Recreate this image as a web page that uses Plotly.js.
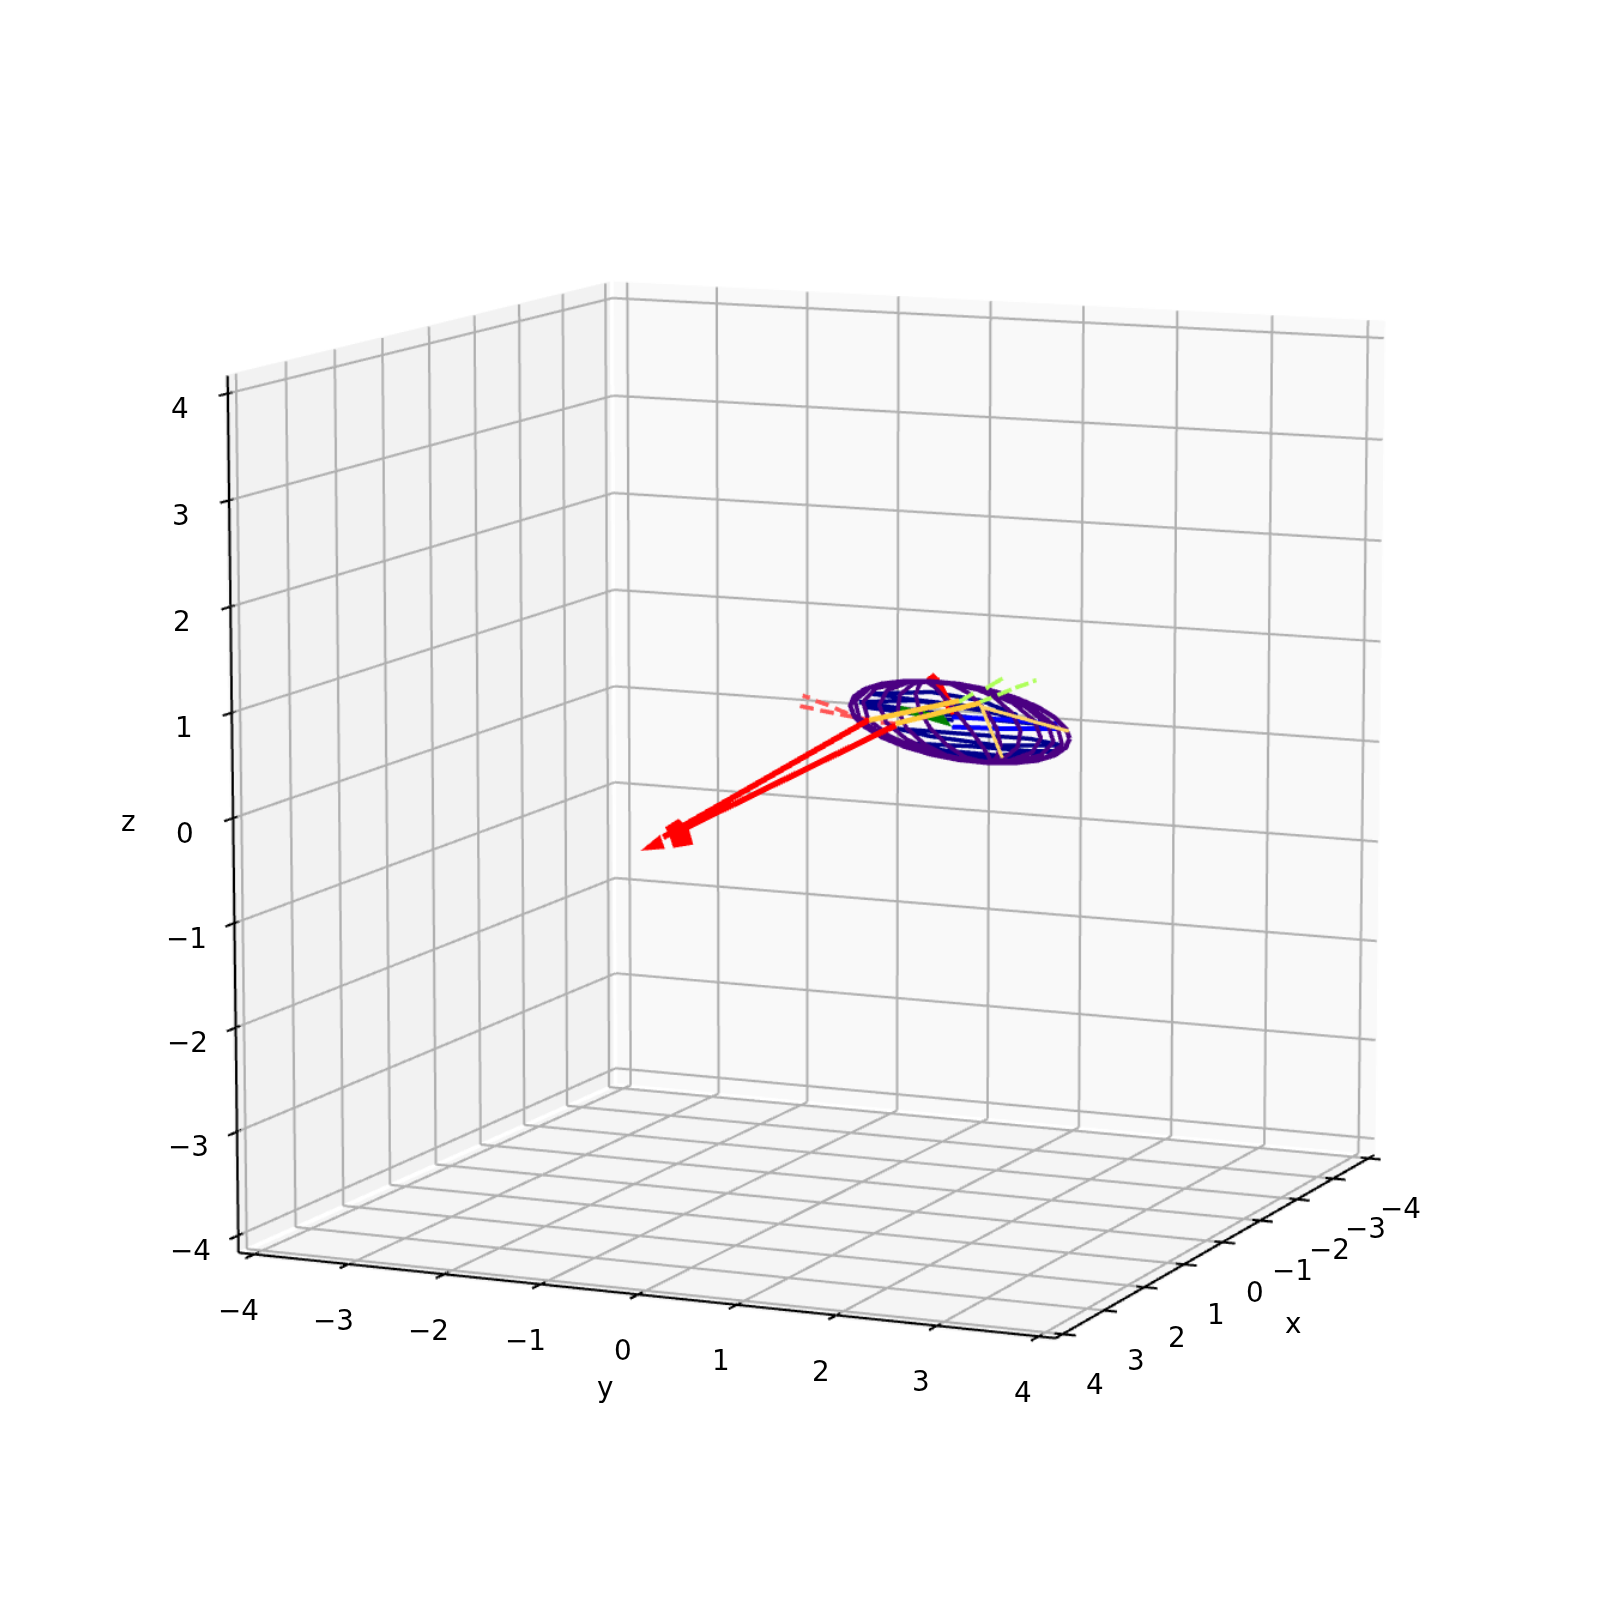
<!DOCTYPE html><html><head><script src="https://cdn.plot.ly/plotly-3.0.1.min.js"></script>
<style>html,body{margin:0;padding:0;overflow:hidden;width:1600px;height:1600px;background:#fff}#g{position:absolute}</style></head><body><div id="g"></div>
<script>
// ---- chart values (y, z of each curve; all lie near x = 0) ----
var tickValues=[-4,-3,-2,-1,0,1,2,3,4];
var tickLabels=['\u22124','\u22123','\u22122','\u22121','0','1','2','3','4'];
var outlineY=[2.570,2.531,2.418,2.238,2.003,1.731,1.438,1.145,.873,.638,.458,.345,.306,.345,.458,.638,.873,1.145,1.438,1.731,2.003,2.238,2.418,2.531,2.570];
var outlineZ=[.572,.481,.400,.337,.297,.279,.287,.320,.376,.450,.539,.635,.732,.823,.904,.967,1.007,1.024,1.017,.984,.928,.852,.761,.662,.572];
var meridian1Y=[1.094,.838,.510,.356,.401,.640,1.026,1.488,1.766],meridian1Z=[1.020,.995,.919,.781,.620,.467,.349,.295,.288];
var meridian2Y=[1.094,.862,.569,.438,.492,.722,1.085,1.512,1.766],meridian2Z=[1.020,.998,.917,.777,.616,.463,.347,.295,.288];
var meridian3Y=[1.094,.910,.688,.607,.678,.891,1.204,1.560,1.766],meridian3Z=[1.020,.998,.905,.761,.598,.447,.335,.288,.288];
var meridian4Y=[1.094,.965,.825,.800,.891,1.084,1.341,1.615,1.766],meridian4Z=[1.020,.992,.878,.723,.556,.409,.308,.284,.288];
var meridian5Y=[1.094,1.030,.985,1.024,1.139,1.308,1.501,1.680,1.766],meridian5Z=[1.020,.996,.887,.735,.570,.421,.317,.285,.288];
var meridian6Y=[1.094,1.110,1.185,1.306,1.450,1.590,1.701,1.760,1.766],meridian6Z=[1.020,1.012,.971,.853,.700,.539,.401,.311,.288];
var meridian7Y=[1.094,1.176,1.348,1.536,1.704,1.820,1.864,1.826,1.766],meridian7Z=[1.020,1.022,1.012,.935,.790,.621,.459,.335,.288];
var meridian8Y=[1.094,1.246,1.523,1.783,1.976,2.067,2.039,1.896,1.766],meridian8Z=[1.020,1.020,1.006,.925,.779,.611,.452,.332,.288];
var meridian9Y=[1.094,1.306,1.672,1.993,2.208,2.277,2.188,1.956,1.766],meridian9Z=[1.020,1.020,.982,.869,.717,.555,.412,.316,.288];
var meridian10Y=[1.094,1.343,1.763,2.121,2.349,2.405,2.279,1.993,1.766],meridian10Z=[1.020,1.015,.962,.841,.687,.527,.392,.308,.288];
var meridian11Y=[1.094,1.369,1.827,2.210,2.448,2.494,2.343,2.019,1.766],meridian11Z=[1.020,1.010,.948,.822,.665,.508,.378,.302,.288];
var parallel1Y=[.520,1.140,1.657,2.036,1.485,.968,.520],parallel1Z=[.863,.922,.876,.758,.816,.836,.863];
var parallel2Y=[.399,.968,1.657,2.398,1.657,.968,.399],parallel2Z=[.774,.829,.780,.686,.699,.733,.774];
var parallel3Y=[.451,.968,1.382],parallel3Z=[.730,.701,.664];
var parallel4Y=[.795,1.485,2.174,2.502,1.830,1.140,.795],parallel4Z=[.544,.542,.541,.500,.454,.494,.544];
var parallel5Y=[1.002,1.588,2.174,2.450,1.830,1.278,1.002],parallel5Z=[.413,.427,.422,.441,.357,.367,.413];
var parallel6Y=[1.278,1.726,2.243,1.726,1.278],parallel6Z=[.326,.334,.363,.292,.326];
var blue1Y=[1.364,1.898,2.450],blue1Z=[.695,.707,.705];
var blue2Y=[1.364,1.898,2.450],blue2Z=[.599,.620,.657];
var goldThick1Y=[.502,1.433],goldThick1Z=[.604,.855];
var goldThick2Y=[.778,1.657],goldThick2Z=[.591,.851];
var goldThin1Y=[1.657,1.881],goldThin1Z=[.828,.338];
var goldThin2Y=[1.657,2.560],goldThin2Z=[.812,.639];
var limeDash1Y=[1.433,1.581,null,1.709,1.881],limeDash1Z=[.845,.936,null,.993,1.101];
var limeDash2Y=[1.640,1.768,null,1.830,1.974,null,2.012,2.147,null,2.192,2.226],limeDash2Z=[.853,.910,null,.937,1.002,null,1.020,1.072,null,1.094,1.106];
var redDash1Y=[-.194,-.118,null,-.056,.078,null,.147,.278,null,.347,.502],redDash1Z=[.798,.781,null,.756,.723,null,.699,.654,null,.633,.604];
var redDash2Y=[-.221,-.077,null,-.008,.134,null,.203,.347,null,.416,.554,null,.623,.778],redDash2Z=[.694,.678,null,.666,.650,null,.642,.626,null,.614,.599,null,.593,.591];
var shaft1Y=[.502,-1.670],shaft1Z=[.611,-.692];
var shaft2Y=[.778,-1.563],shaft2Z=[.575,-.650];
var shaft3Y=[1.192,1.388],shaft3Z=[1.054,.730];
var headAY=[-1.912,-1.706,-1.652],headAZ=[-.841,-.671,-.804];
var headBY=[-1.509,-1.403,-1.350,-1.564,-1.599,-1.652],headBZ=[-.499,-.574,-.740,-.788,-.687,-.592];
var headCY=[1.168,1.070,1.270],headCZ=[1.108,1.030,1.020];
var wedgeY=[1.261,1.433,1.312],wedgeZ=[.898,.733,.725];
var greenY=[.778,.813,1.278,1.364,1.106],greenZ=[.720,.770,.706,.599,.677];

// ---- view ----
var R=4+1/6,Rr=R+.3,AZ=23.912*Math.PI/180,EL=9.957*Math.PI/180,DIST=9.6*R/Rr,W=6902,CX=820.8,CY=778.5;
var traces=[];
function L(x,y,z,c,w){traces.push({type:'scatter3d',mode:'lines',x:x,y:y,z:z,connectgaps:false,line:{color:c,width:w},hoverinfo:'skip',showlegend:false});}
function C(y,z,c,w,t){ // curve in the x = 0 plane, nudged along the view ray for draw order
 var xs=y.map(function(v){return v===null?null:t;}),ys=y.map(function(v){return v===null?null:v+t*.4433;}),zs=z.map(function(v){return v===null?null:v+t*.192;});
 L(xs,ys,zs,c,w);}
function M(x,y,z,c){var i=[],j=[],k=[];for(var n=1;n<x.length-1;n++){i.push(0);j.push(n);k.push(n+1);}
 traces.push({type:'mesh3d',x:x,y:y,z:z,i:i,j:j,k:k,color:c,opacity:1,flatshading:true,lighting:{ambient:1,diffuse:0,specular:0,roughness:1,fresnel:0},lightposition:{x:0,y:0,z:0},hoverinfo:'skip',showscale:false});}
function F(y,z,c,t){M(y.map(function(){return t;}),y.map(function(v){return v+t*.4433;}),z.map(function(v){return v+t*.192;}),c);}
var P=R+.03;
M([-P,-P,-P,-P],[-R,R,R,-R],[-R,-R,R,R],'#f9f9f9');
M([-R,R,R,-R],[-P,-P,-P,-P],[-R,-R,R,R],'#f2f2f2');
M([-R,R,R,-R],[-R,-R,R,R],[-P,-P,-P,-P],'#f5f5f5');
var G='#b0b0b0',K='#000000';
tickValues.forEach(function(t){
 L([-R,-R],[t,t],[-R,R],G,2);L([-R,-R],[-R,R],[t,t],G,2);
 L([-R,R],[-R,-R],[t,t],G,2);L([t,t],[-R,-R],[-R,R],G,2);
 L([t,t],[-R,R],[-R,-R],G,2);L([-R,R],[t,t],[-R,-R],G,2);
 L([R+.18,R-.09],[-R,-R],[t,t],K,2);L([R+.18,R-.09],[t,t],[-R,-R],K,2);L([t,t],[R+.13,R-.08],[-R,-R],K,2);
});
L([R,R],[-R,-R],[-R,R],K,2);L([R,R],[-R,R],[-R,-R],K,2);L([-R,R],[R,R],[-R,-R],K,2);
// marks, back to front
C(redDash1Y,redDash1Z,'#ff5555',3.5,.02);C(redDash2Y,redDash2Z,'#ff5555',3.5,.02);
[[parallel1Y,parallel1Z],[parallel2Y,parallel2Z],[parallel3Y,parallel3Z],[parallel4Y,parallel4Z],[parallel5Y,parallel5Z],[parallel6Y,parallel6Z]].forEach(function(a){C(a[0],a[1],'#00008b',3.5,.04);});
C(blue1Y,blue1Z,'#0000ff',4,.06);C(blue2Y,blue2Z,'#0000ff',4,.06);
F(greenY,greenZ,'#008000',.08);
F(headCY,headCZ,'#ff0000',.10);F(wedgeY,wedgeZ,'#ff0000',.10);C(shaft3Y,shaft3Z,'#ff0000',6,.10);
C(outlineY,outlineZ,'#4b0082',4,.12);
[[meridian1Y,meridian1Z],[meridian2Y,meridian2Z],[meridian3Y,meridian3Z],[meridian4Y,meridian4Z],[meridian5Y,meridian5Z],[meridian6Y,meridian6Z],[meridian7Y,meridian7Z],[meridian8Y,meridian8Z],[meridian9Y,meridian9Z],[meridian10Y,meridian10Z],[meridian11Y,meridian11Z]].forEach(function(a){C(a[0],a[1],'#4b0082',3.5,.12);});
C(limeDash1Y,limeDash1Z,'#aeff5a',3.5,.13);C(limeDash2Y,limeDash2Z,'#aeff5a',3.5,.13);
C(shaft1Y,shaft1Z,'#ff0000',5,.14);C(shaft2Y,shaft2Z,'#ff0000',5,.14);
F(headAY,headAZ,'#ff0000',.14);F(headBY,headBZ,'#ff0000',.14);
C(goldThin1Y,goldThin1Z,'#ffd466',3,.16);C(goldThin2Y,goldThin2Z,'#ffd466',3,.16);
C(goldThick1Y,goldThick1Z,'#ffc837',4.5,.18);C(goldThick2Y,goldThick2Z,'#ffc837',4.5,.18);

var an=[];function A(x,y,z,t,sx,sy){an.push({x:x,y:y,z:z,text:t,showarrow:false,xanchor:'center',yanchor:'middle',xshift:sx,yshift:-sy,font:{family:'DejaVu Sans',size:27.8,color:'#000'}});}
tickValues.forEach(function(t,n){A(R,-R,t,tickLabels[n],-48,15);A(R,t,-R,tickLabels[n],-15.5,56);A(t,R,-R,tickLabels[n],32.5,50);});
A(0,R,-R,'x',71,81);A(R,0,-R,'y',-33,93);A(R,-R,0,'z',-105,3);
function ax(){return {range:[-Rr,Rr],autorange:false,showgrid:false,zeroline:false,showline:false,ticks:'',showticklabels:false,title:{text:''},showbackground:false,showspikes:false};}
var g=document.getElementById('g');g.style.left=(CX-W/2)+'px';g.style.top=(CY-W/2)+'px';
Plotly.newPlot('g',traces,{width:W,height:W,margin:{l:0,r:0,t:0,b:0,pad:0},paper_bgcolor:'rgba(0,0,0,0)',showlegend:false,scene:{domain:{x:[0,1],y:[0,1]},aspectmode:'manual',aspectratio:{x:1,y:1,z:1},camera:{eye:{x:Math.cos(EL)*Math.cos(AZ)*DIST,y:Math.cos(EL)*Math.sin(AZ)*DIST,z:Math.sin(EL)*DIST},center:{x:0,y:0,z:0},projection:{type:'perspective'}},xaxis:ax(),yaxis:ax(),zaxis:ax(),annotations:an}},{displayModeBar:false});
</script></body></html>
